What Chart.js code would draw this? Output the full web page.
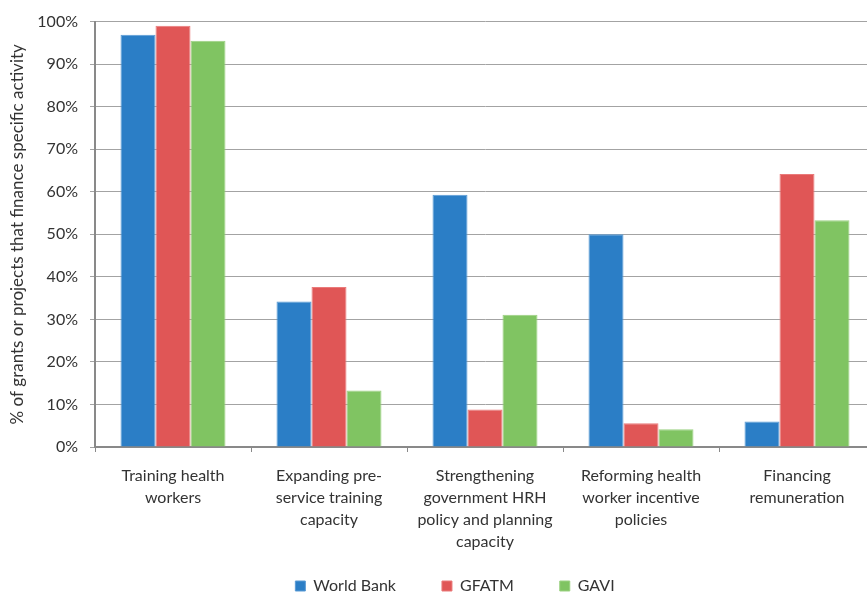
<!DOCTYPE html>
<html>
<head>
<meta charset="utf-8">
<script src="https://cdn.jsdelivr.net/npm/chart.js@4"></script>
<style>
  html, body { margin: 0; padding: 0; overflow: hidden; background: #fff; }
  #wrap { width: 876px; height: 625px; }
</style>
</head>
<body>
<div id="wrap"><canvas id="c" width="876" height="625"></canvas></div>
<script>
const categories = [
  ["Training health", "workers"],
  ["Expanding pre-", "service training", "capacity"],
  ["Strengthening", "government HRH", "policy and planning", "capacity"],
  ["Reforming health", "worker incentive", "policies"],
  ["Financing", "remuneration"]
];
const worldBank = [96.9, 34.2, 59.3, 50.0, 6.0];
const gfatm     = [99.0, 37.6, 8.8, 5.6, 64.2];
const gavi      = [95.5, 13.3, 31.1, 4.2, 53.3];
const yTicks = [0, 10, 20, 30, 40, 50, 60, 70, 80, 90, 100];

const FONT = "Lato, 'Open Sans', sans-serif";
const textColor = '#333333';

const legendShift = {
  id: 'legendShift',
  afterLayout(chart) {
    if (chart.legend) { chart.legend.top -= 21; chart.legend.bottom -= 21; }
  }
};

new Chart(document.getElementById('c'), {
  type: 'bar',
  data: {
    labels: categories,
    datasets: [
      { label: 'World Bank', data: worldBank, backgroundColor: '#2B7EC6', borderColor: '#5A9BD5', borderWidth: 1 },
      { label: 'GFATM', data: gfatm, backgroundColor: '#E05656', borderColor: '#EA7A7A', borderWidth: 1 },
      { label: 'GAVI', data: gavi, backgroundColor: '#80C462', borderColor: '#9BD181', borderWidth: 1 }
    ]
  },
  plugins: [legendShift],
  options: {
    responsive: false,
    animation: false,
    devicePixelRatio: 1,
    layout: { padding: { left: 35, right: 1, top: 21, bottom: 0 } },
    datasets: { bar: { categoryPercentage: 0.673, barPercentage: 1.0 } },
    plugins: {
      legend: {
        position: 'bottom',
        labels: {
          boxWidth: 10, boxHeight: 10, padding: 46,
          color: textColor,
          font: { family: FONT, size: 16 }
        }
      },
      tooltip: { enabled: false }
    },
    scales: {
      x: {
        grid: { drawOnChartArea: false, drawTicks: true, tickLength: 5, color: '#898989', offset: true },
        border: { color: '#898989', width: 2 },
        ticks: { color: textColor, padding: 13, maxRotation: 0, autoSkip: false,
                 font: { family: FONT, size: 16, lineHeight: 1.375 } },
        afterFit: (s) => { s.height = 106; }
      },
      y: {
        min: 0, max: 100,
        afterBuildTicks: (s) => { s.ticks = yTicks.map(v => ({ value: v })); },
        grid: { color: '#A3A3A3', lineWidth: 1, tickLength: 5, drawTicks: true },
        border: { color: '#898989', width: 2 },
        ticks: { color: textColor, padding: 12, font: { family: FONT, size: 16 },
                 callback: (v) => v + '%' },
        title: { display: true, text: '% of grants or projects that finance specific activity',
                 color: textColor, font: { family: FONT, size: 17 }, padding: { top: -27.2, bottom: 0 } },
        afterFit: (s) => { s.width = 60; }
      }
    }
  }
});
</script>
</body>
</html>
